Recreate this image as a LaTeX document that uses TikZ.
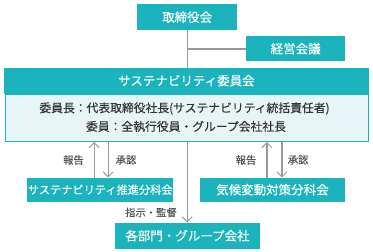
\documentclass[tikz,border=0pt]{standalone}
\usepackage{fontspec}
\setmainfont{Noto Sans CJK JP}[FakeBold=0.15]
\usetikzlibrary{arrows.meta,calc}
\definecolor{teal1}{HTML}{1BB4BD}
\definecolor{lightbg}{HTML}{E8F5F7}
\definecolor{linegray}{HTML}{9A9A9A}
\definecolor{txtdark}{HTML}{333333}
\definecolor{txtgray}{HTML}{555555}
\tikzset{
  tealbox/.style={fill=teal1,draw=none,text=white,inner sep=0pt,anchor=north west},
  lbl/.style={text=txtgray,font=\fontsize{10.3}{11}\selectfont,inner sep=0pt},
  conn/.style={draw=linegray,line width=1.1pt},
  arr/.style={conn,-{Straight Barb[length=5pt,width=10pt,line width=1pt]}},
}
\begin{document}
\begin{tikzpicture}[x=1pt,y=-1pt]
\useasboundingbox[fill=white] (0,0) rectangle (373,252);
% boxes
\node[tealbox,minimum width=100pt,minimum height=26pt,font=\fontsize{12.5}{13}\selectfont] (top) at (137,4) {取締役会};
\node[tealbox,minimum width=99pt,minimum height=25pt,font=\fontsize{12.5}{13}\selectfont] (keiei) at (246,36) {経営会議};
\node[tealbox,minimum width=364.5pt,minimum height=26pt,font=\fontsize{12.5}{13}\selectfont] (head) at (4,67.5) {サステナビリティ委員会};
\node[draw=teal1,line width=1pt,fill=lightbg,anchor=north west,minimum width=363.5pt,minimum height=47.5pt,inner sep=0pt] (body) at (4.5,93.5) {};
\node[text=txtdark,font=\fontsize{11.8}{12}\selectfont,inner sep=0pt] (l1) at (184.5,108.5) {委員長：代表取締役社長(サステナビリティ統括責任者)};
\node[text=txtdark,font=\fontsize{11.8}{12}\selectfont,inner sep=0pt] (l2) at (186,126.5) {委員：全執行役員・グループ会社社長};
\node[tealbox,minimum width=146pt,minimum height=24pt,font=\fontsize{11.2}{12}\selectfont] (lsub) at (27,177.5) {サステナビリティ推進分科会};
\node[tealbox,minimum width=145.5pt,minimum height=24pt,font=\fontsize{12.5}{13}\selectfont] (rsub) at (199.5,177.5) {気候変動対策分科会};
\node[tealbox,minimum width=144.5pt,minimum height=26pt,font=\fontsize{12.5}{13}\selectfont] (bottom) at (115,222.5) {各部門・グループ会社};
% connectors
\draw[conn] (top.south) -- (top.south |- head.north);
\coordinate (jn) at ($(top.south)!0.5!(top.south |- head.north)$);
\draw[conn] (jn) -- (jn -| keiei.west);
\draw[arr] ([xshift=-6pt]lsub.north) -- ([xshift=-6pt]lsub.north |- body.south);
\draw[arr] ([xshift=8pt]lsub.north |- body.south) -- ([xshift=8pt]lsub.north);
\draw[arr] ([xshift=-5.5pt]rsub.north) -- ([xshift=-5.5pt]rsub.north |- body.south);
\draw[arr] ([xshift=9.5pt]rsub.north |- body.south) -- ([xshift=9.5pt]rsub.north);
\draw[arr] (top.south |- body.south) -- (top.south |- bottom.north);
% labels
\node[lbl] (lb1) at (73.5,160) {報告};
\node[lbl] (lb2) at (126,160) {承認};
\node[lbl] (lb3) at (246,160) {報告};
\node[lbl] (lb4) at (298,160) {承認};
\node[lbl] (lb5) at (151,212.5) {指示・監督};
\end{tikzpicture}
\end{document}
